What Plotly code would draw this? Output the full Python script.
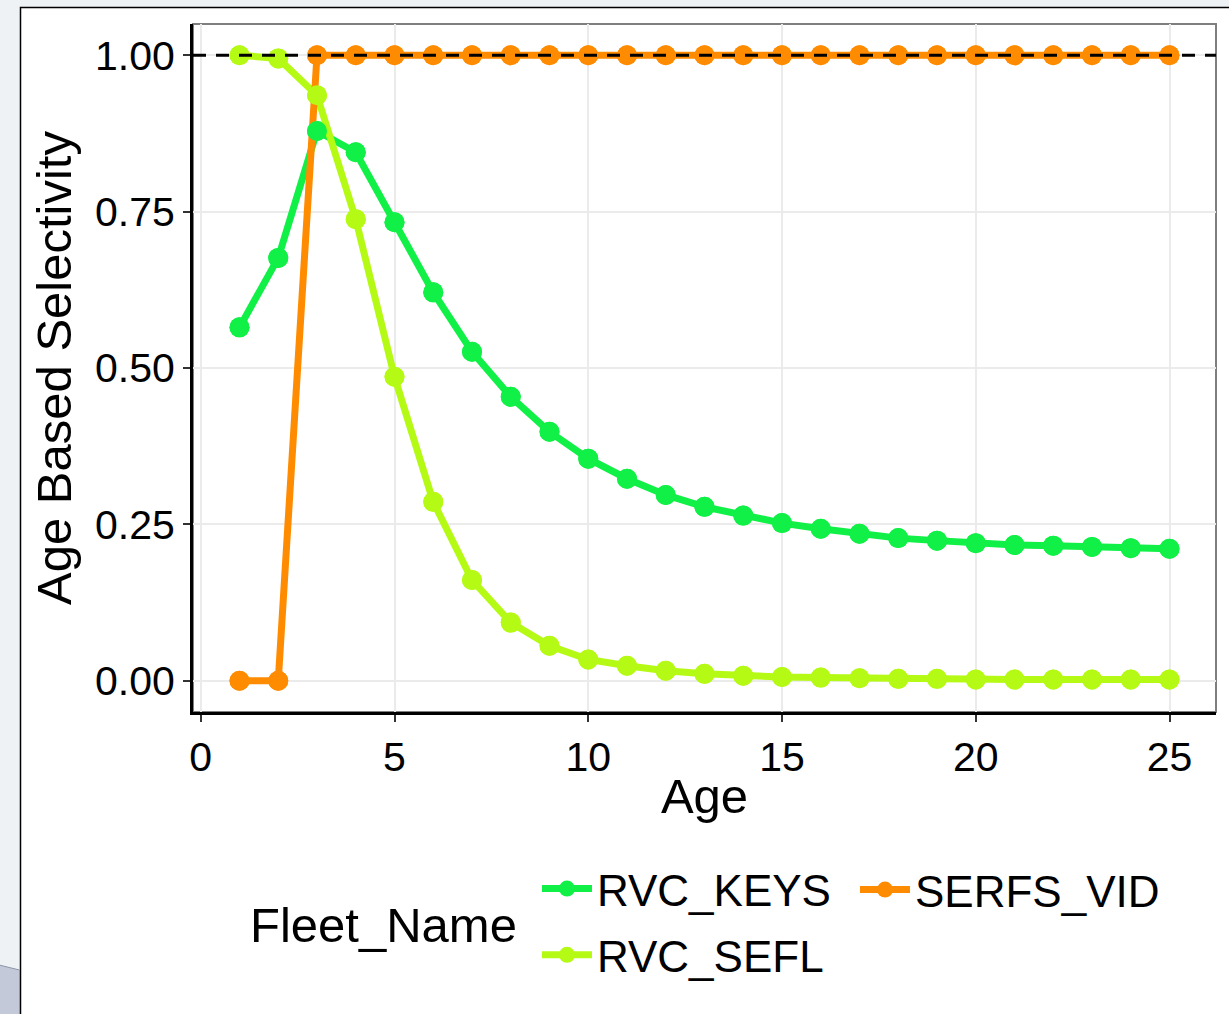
import plotly.graph_objects as go

# ---------------- data ----------------
ages = list(range(1, 26))
rvc_keys = [0.565, 0.676, 0.879, 0.845, 0.733, 0.621, 0.526, 0.454, 0.398, 0.355,
            0.323, 0.297, 0.278, 0.264, 0.252, 0.243, 0.235, 0.228, 0.224, 0.220,
            0.217, 0.216, 0.214, 0.212, 0.211]
rvc_sefl = [1.000, 0.995, 0.936, 0.738, 0.486, 0.286, 0.161, 0.093, 0.056, 0.034,
            0.024, 0.016, 0.011, 0.008, 0.006, 0.005, 0.004, 0.003, 0.003, 0.002,
            0.002, 0.002, 0.002, 0.002, 0.002]
serfs_vid = [0.0, 0.0] + [1.0] * 23
ref_level = 1.0

series_names = ["RVC_KEYS", "RVC_SEFL", "SERFS_VID"]
series_values = [rvc_keys, rvc_sefl, serfs_vid]
series_colors = ["#10F046", "#B5FA14", "#FF8C00"]
series_legend = ["legend", "legend", "legend2"]

x_ticks = [0, 5, 10, 15, 20, 25]
y_ticks = [0.0, 0.25, 0.5, 0.75, 1.0]

# ---------------- geometry ----------------
W, H = 1229, 1014
ML, MR, MT, MB = 193, 13, 24, 302
PW = W - ML - MR
PH = H - MT - MB


def px(xp):
    return (xp - ML) / PW


def py(yp):
    return (H - MB - yp) / PH


FONT = "Liberation Sans, Arial, sans-serif"

fig = go.Figure()

# line layer (all lines first, like ggplot geom_line), carrying legend entries
for name, vals, col, lg in zip(series_names, series_values, series_colors, series_legend):
    fig.add_trace(go.Scatter(
        x=ages, y=vals, name=name, mode="lines+markers",
        line=dict(color=col, width=7),
        marker=dict(color=col, size=20),
        legend=lg, legendgroup=name, showlegend=True,
        hoverinfo="skip",
    ))

# point layer on top
for name, vals, col in zip(series_names, series_values, series_colors):
    fig.add_trace(go.Scatter(
        x=ages, y=vals, name=name, mode="markers",
        marker=dict(color=col, size=20),
        showlegend=False,
    ))

shapes = [
    # white page over the grey screenshot background
    dict(type="rect", xref="paper", yref="paper",
         x0=px(20.5), x1=px(1260), y0=py(1040), y1=py(7.5),
         fillcolor="white", line=dict(color="black", width=1.5), layer="below"),
    # bottom-left window artifact
    dict(type="path", xref="paper", yref="paper",
         path=f"M{px(-5)},{py(964)} L{px(19.5)},{py(970)} L{px(19.5)},{py(1030)} L{px(-5)},{py(1030)} Z",
         fillcolor="#C3C9D8", line=dict(color="#8F96A8", width=1), layer="below"),
    # grey panel border
    dict(type="rect", xref="paper", yref="paper", x0=0, x1=1, y0=0, y1=1,
         fillcolor="rgba(0,0,0,0)", line=dict(color="#7F7F7F", width=2), layer="below"),
    # dashed reference line at 1
    dict(type="line", xref="paper", yref="y", x0=0, x1=1, y0=ref_level, y1=ref_level,
         line=dict(color="black", width=3, dash="13px,10px"), layer="above"),
]

fig.update_layout(
    width=W, height=H,
    margin=dict(l=ML, r=MR, t=MT, b=MB, autoexpand=False),
    paper_bgcolor="#EEF2F5",
    plot_bgcolor="white",
    font=dict(family=FONT, color="black"),
    shapes=shapes,
    showlegend=True,
    legend=dict(
        orientation="v", x=px(537), xanchor="left", y=py(922), yanchor="middle",
        bgcolor="rgba(0,0,0,0)", font=dict(size=44, family=FONT, color="black"),
        tracegroupgap=6, itemwidth=50,
    ),
    legend2=dict(
        orientation="v", x=px(855), xanchor="left", y=py(890), yanchor="middle",
        bgcolor="rgba(0,0,0,0)", font=dict(size=44, family=FONT, color="black"),
        itemwidth=50,
    ),
    annotations=[dict(
        text="Fleet_Name", xref="paper", yref="paper",
        x=px(383), y=py(925), xanchor="center", yanchor="middle",
        showarrow=False, font=dict(size=49, family=FONT, color="black"),
    )],
)

fig.update_xaxes(
    range=[-0.2, 26.2], tickvals=x_ticks, ticktext=[str(v) for v in x_ticks],
    showgrid=True, gridcolor="#EBEBEB", gridwidth=2, zeroline=False,
    showline=True, linecolor="black", linewidth=3,
    ticks="outside", ticklen=7, tickwidth=2, tickcolor="#333333",
    tickfont=dict(size=41, family=FONT, color="black"),
    title=dict(text="Age", font=dict(size=49, family=FONT, color="black"), standoff=0),
    automargin=False,
)
fig.update_yaxes(
    range=[-0.05, 1.05], tickvals=y_ticks, ticktext=[f"{v:.2f}" for v in y_ticks],
    showgrid=True, gridcolor="#EBEBEB", gridwidth=2, zeroline=False,
    showline=True, linecolor="black", linewidth=3,
    ticks="outside", ticklen=7, tickwidth=2, tickcolor="#333333",
    tickfont=dict(size=41, family=FONT, color="black"),
    title=dict(text="Age Based Selectivity", font=dict(size=49, family=FONT, color="black"), standoff=8),
    automargin=False,
)

fig.write_html("out.html")
